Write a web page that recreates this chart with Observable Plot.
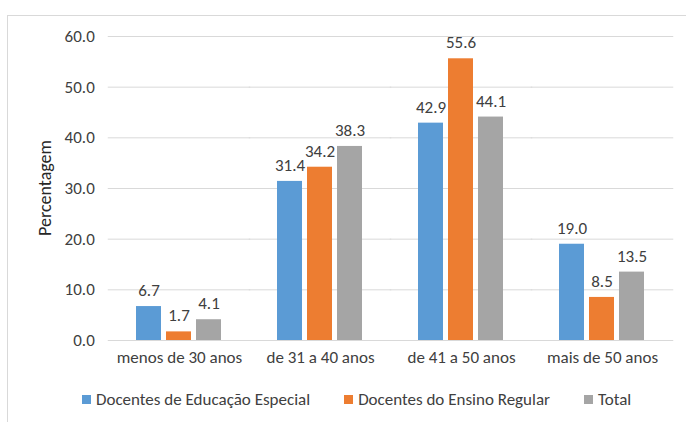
<!DOCTYPE html>
<html>
<head>
<meta charset="utf-8">
<script src="https://cdn.jsdelivr.net/npm/d3@7"></script>
<script src="https://cdn.jsdelivr.net/npm/@observablehq/plot@0.6"></script>
<style>
  html, body { margin: 0; padding: 0; background: #fff; }
  body { width: 686px; height: 422px; position: relative; overflow: hidden; font-family: Carlito, Lato, "Open Sans", sans-serif; color: #404040; }
  #frame { position: absolute; left: 7px; top: 15px; width: 690px; height: 420px; border-left: 1px solid #d9d9d9; border-top: 1px solid #d9d9d9; }
  #chart { position: absolute; left: 0; top: 0; }
  #ylabel { position: absolute; left: 45px; top: 188px; transform: translate(-50%, -50%) rotate(-90deg); font-size: 18px; color: #262626; white-space: nowrap; }
  #legend { position: absolute; top: 389px; left: 82px; display: flex; align-items: center; font-size: 17px; color: #404040; white-space: nowrap; }
  .item { display: flex; align-items: center; margin-right: 34px; }
  .sw { width: 9px; height: 9px; margin-right: 5px; }
</style>
</head>
<body>
<div id="frame"></div>
<div id="chart"></div>
<div id="ylabel">Percentagem</div>
<div id="legend"></div>
<script>
const categories = ["menos de 30 anos", "de 31 a 40 anos", "de 41 a 50 anos", "mais de 50 anos"];
const series = ["Docentes de Educação Especial", "Docentes do Ensino Regular", "Total"];
const valuesEspecial = [6.7, 31.4, 42.9, 19.0];
const valuesRegular = [1.7, 34.2, 55.6, 8.5];
const valuesTotal = [4.1, 38.3, 44.1, 13.5];
const yTicks = [0, 10, 20, 30, 40, 50, 60];
const colors = ["#5B9BD5", "#ED7D31", "#A5A5A5"];

const allValues = [valuesEspecial, valuesRegular, valuesTotal];
const data = [];
categories.forEach((c, i) => {
  series.forEach((s, j) => data.push({category: c, series: s, value: allValues[j][i]}));
});

const font = "Carlito, Lato, 'Open Sans', sans-serif";
const W = 686, ML = 107, MR = 13;
const padInner = 0.378, padOuter = padInner / 2;
const step = (W - ML - MR) / categories.length;
const ext = step * padOuter; // extend grid rules across the gaps between groups

const plot = Plot.plot({
  width: W,
  height: 378,
  marginTop: 36,
  marginBottom: 38,
  marginLeft: ML,
  marginRight: MR,
  style: {fontFamily: font, fontSize: "17px", color: "#404040", background: "transparent"},
  fx: {domain: categories, paddingInner: padInner, paddingOuter: padOuter, label: null, tickSize: 0, tickPadding: 10},
  x: {domain: series, paddingInner: 0.16, paddingOuter: 0, axis: null},
  y: {domain: [0, 60], ticks: yTicks, tickFormat: d => d.toFixed(1), tickSize: 0, tickPadding: 14 + ext, label: null, grid: false},
  color: {domain: series, range: colors},
  marks: [
    Plot.ruleY(yTicks, {stroke: "#d9d9d9", strokeWidth: 1, strokeOpacity: 1, insetLeft: -ext - 0.5, insetRight: -ext - 0.5}),
    Plot.barY(data, {fx: "category", x: "series", y: "value", fill: "series"}),
    Plot.text(data, {fx: "category", x: "series", y: "value", text: d => d.value.toFixed(1),
      dy: -16, fill: "#404040", fontSize: 17, lineAnchor: "middle"})
  ]
});
document.getElementById("chart").appendChild(plot);

const legend = document.getElementById("legend");
series.forEach((s, j) => {
  const item = document.createElement("div");
  item.className = "item";
  const sw = document.createElement("div");
  sw.className = "sw";
  sw.style.background = colors[j];
  const t = document.createElement("span");
  t.textContent = s;
  item.appendChild(sw);
  item.appendChild(t);
  legend.appendChild(item);
});
</script>
</body>
</html>
